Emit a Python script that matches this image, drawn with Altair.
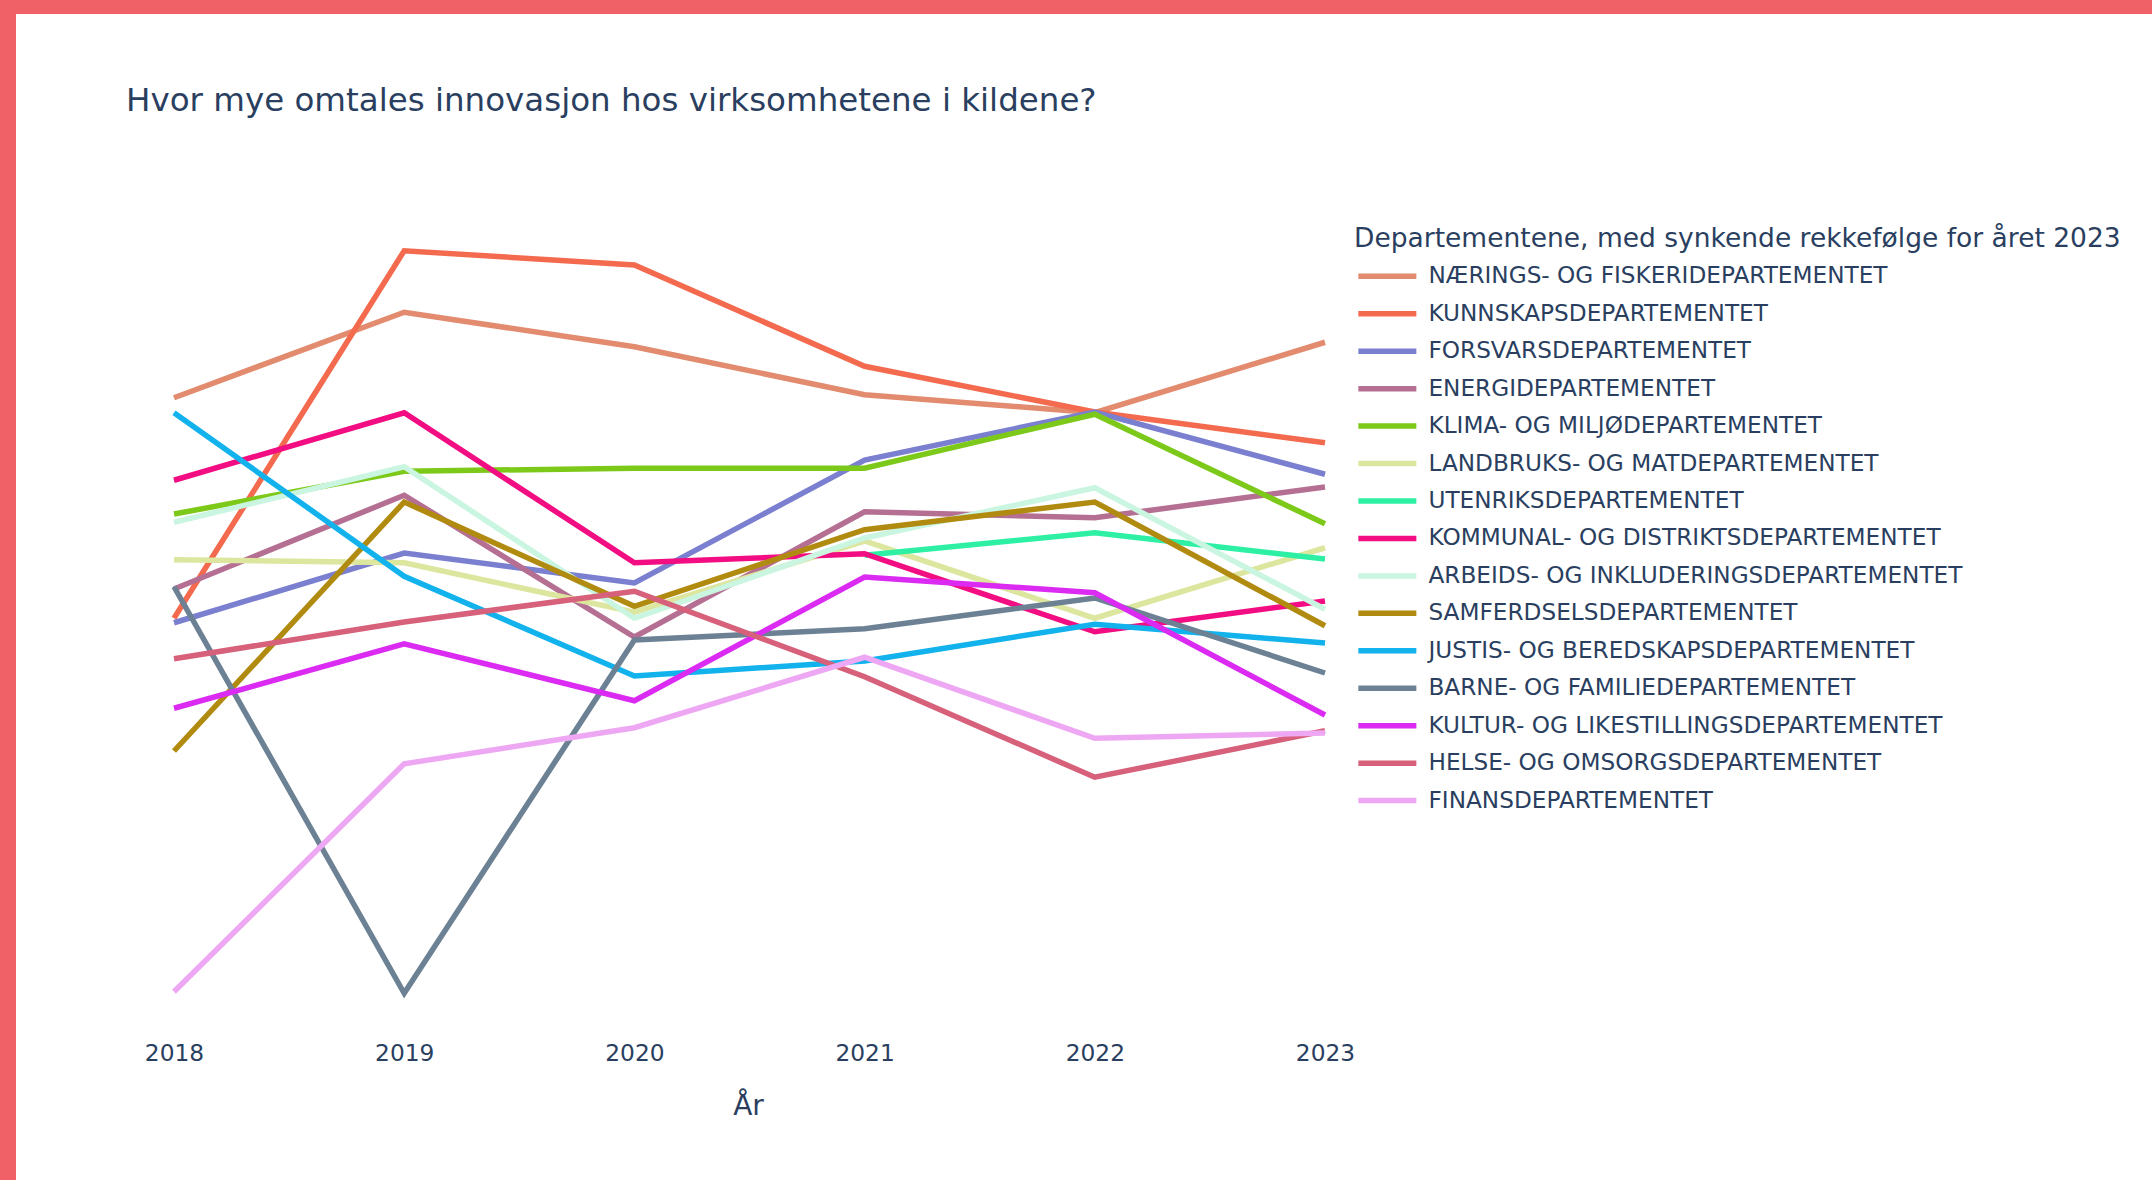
import altair as alt
import pandas as pd

years = [2018, 2019, 2020, 2021, 2022, 2023]

departments = [
    "NÆRINGS- OG FISKERIDEPARTEMENTET",
    "KUNNSKAPSDEPARTEMENTET",
    "FORSVARSDEPARTEMENTET",
    "ENERGIDEPARTEMENTET",
    "KLIMA- OG MILJØDEPARTEMENTET",
    "LANDBRUKS- OG MATDEPARTEMENTET",
    "UTENRIKSDEPARTEMENTET",
    "KOMMUNAL- OG DISTRIKTSDEPARTEMENTET",
    "ARBEIDS- OG INKLUDERINGSDEPARTEMENTET",
    "SAMFERDSELSDEPARTEMENTET",
    "JUSTIS- OG BEREDSKAPSDEPARTEMENTET",
    "BARNE- OG FAMILIEDEPARTEMENTET",
    "KULTUR- OG LIKESTILLINGSDEPARTEMENTET",
    "HELSE- OG OMSORGSDEPARTEMENTET",
    "FINANSDEPARTEMENTET",
]

colors = [
    "#E28B6E", "#F46A4E", "#7A7FCF", "#B56F92", "#7DC91A",
    "#DDE69E", "#2DF0A4", "#F20D82", "#C9F5E1", "#B18A10",
    "#12B2EC", "#6C8294", "#DB2BF3", "#D7607A", "#EEA8F3",
]

naerings = [80.3, 91.7, 87.1, 80.7, 78.3, 87.7]
kunnskap = [50.9, 99.9, 98.0, 84.5, 78.4, 74.3]
forsvar = [50.3, 59.6, 55.6, 72.0, 78.4, 70.1]
energi = [54.8, 67.3, 48.4, 65.1, 64.3, 68.4]
klima = [64.8, 70.5, 70.9, 70.9, 78.1, 63.5]
landbruk = [58.7, 58.3, 51.7, 61.2, 50.9, 60.3]
utenriks = [None, None, None, 59.3, 62.3, 58.8]
kommunal = [69.3, 78.3, 58.3, 59.5, 49.1, 53.2]
arbeid = [63.7, 71.1, 50.9, 61.6, 68.3, 52.1]
samferdsel = [33.2, 66.4, 52.5, 62.7, 66.4, 49.9]
justis = [78.3, 56.5, 43.2, 45.2, 50.1, 47.6]
barne = [55.1, 0.9, 48.0, 49.5, 53.6, 43.6]
kultur = [38.9, 47.5, 39.9, 56.4, 54.3, 38.0]
helse = [45.5, 50.4, 54.5, 43.1, 29.7, 35.9]
finans = [1.1, 31.5, 36.3, 45.7, 34.9, 35.6]

series = [naerings, kunnskap, forsvar, energi, klima, landbruk, utenriks,
          kommunal, arbeid, samferdsel, justis, barne, kultur, helse, finans]

rows = []
for dep, vals in zip(departments, series):
    for yr, v in zip(years, vals):
        if v is not None:
            rows.append({"year": yr, "value": v, "department": dep})
df = pd.DataFrame(rows)

FONT = "DejaVu Sans"
TXT = "#2a3f5f"
LW = 5.5

chart = alt.Chart(df).mark_line(strokeWidth=LW).encode(
    x=alt.X(
        "year:Q",
        scale=alt.Scale(domain=[2018, 2023], range=[158, 1309], nice=False, zero=False),
        axis=alt.Axis(
            values=years, format="d", grid=False, domain=False, ticks=False, tickSize=0,
            labelFlush=False, labelOverlap=False,
            labelFont=FONT, labelFontSize=23.3, labelColor=TXT,
            labelBaseline="alphabetic", labelPadding=28.5,
            offset=-148,
            title="År", titleFont=FONT, titleFontSize=28, titleColor=TXT,
            titleFontWeight="normal", titleBaseline="alphabetic",
            titleX=732, titleY=82, titleAlign="center",
        ),
    ),
    y=alt.Y(
        "value:Q",
        scale=alt.Scale(domain=[0, 100], range=[986, 236], nice=False, zero=False),
        axis=None,
    ),
    color=alt.Color(
        "department:N",
        sort=departments,
        scale=alt.Scale(domain=departments, range=colors),
        legend=alt.Legend(
            title="Departementene, med synkende rekkefølge for året 2023",
            orient="none", legendX=1338, legendY=211.6,
            padding=0,
            titleFont=FONT, titleFontSize=26.5, titleColor=TXT, titleFontWeight="normal",
            titlePadding=12.2, titleLimit=2000,
            labelFont=FONT, labelFontSize=23.2, labelColor=TXT, labelLimit=2000,
            symbolType="M-3.2222,0H3.2222", symbolSize=324, symbolStrokeWidth=LW,
            symbolOffset=21.35, labelOffset=29.1, rowPadding=13.45,
        ),
    ),
).properties(
    width=2136,
    height=1166,
    autosize=alt.AutoSizeParams(type="none"),
    padding={"left": 16, "top": 14, "right": 0, "bottom": 0},
    background="#F06167",
    title=alt.TitleParams(
        text="Hvor mye omtales innovasjon hos virksomhetene i kildene?",
        anchor="start", frame="group", orient="top", offset=0,
        dx=110, dy=129.9, baseline="alphabetic",
        font=FONT, fontSize=32.5, fontWeight="normal", color=TXT,
    ),
).configure_view(fill="white", strokeWidth=0)

chart.save("out.html", embed_options={"renderer": "svg", "actions": False})
